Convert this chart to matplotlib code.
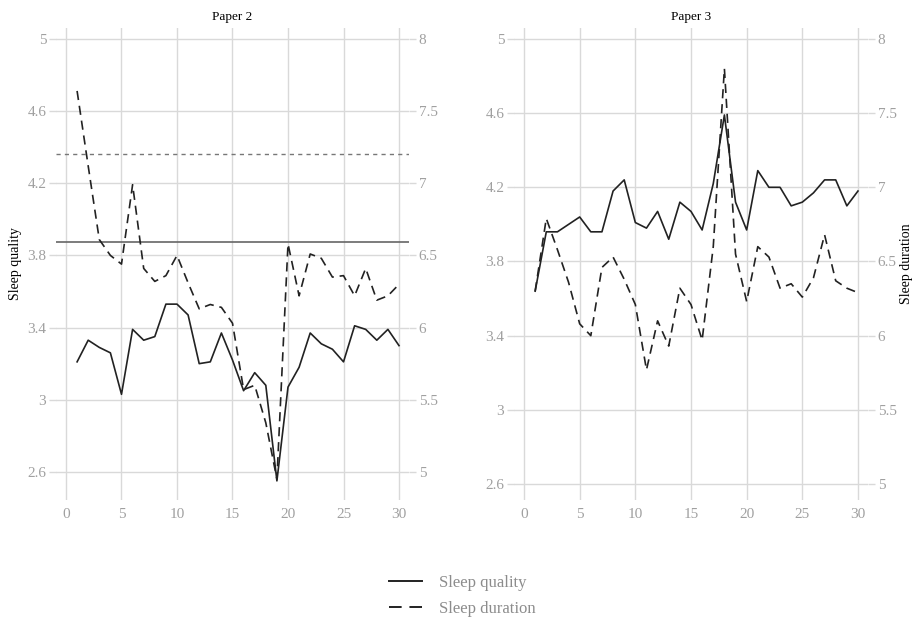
import matplotlib
matplotlib.use("Agg")
import matplotlib.pyplot as plt
from matplotlib.lines import Line2D

plt.rcParams["font.family"] = ["Liberation Serif", "DejaVu Serif"]

# ---------------------------------------------------------------------------
# Data
# ---------------------------------------------------------------------------
days = list(range(1, 31))

p2_quality = [3.21, 3.33, 3.29, 3.26, 3.03, 3.39, 3.33, 3.35, 3.53, 3.53,
              3.47, 3.20, 3.21, 3.37, 3.22, 3.05, 3.15, 3.08, 2.55, 3.07,
              3.18, 3.37, 3.31, 3.28, 3.21, 3.41, 3.39, 3.33, 3.39, 3.30]
p2_duration = [7.64, 7.12, 6.61, 6.50, 6.44, 6.99, 6.41, 6.32, 6.36, 6.50,
               6.31, 6.13, 6.16, 6.14, 6.03, 5.57, 5.60, 5.34, 4.95, 6.58,
               6.22, 6.51, 6.48, 6.35, 6.36, 6.22, 6.41, 6.19, 6.22, 6.30]

p3_quality = [3.64, 3.96, 3.96, 4.00, 4.04, 3.96, 3.96, 4.18, 4.24, 4.01,
              3.98, 4.07, 3.92, 4.12, 4.07, 3.97, 4.22, 4.59, 4.12, 3.97,
              4.29, 4.20, 4.20, 4.10, 4.12, 4.17, 4.24, 4.24, 4.10, 4.18]
p3_duration = [6.30, 6.79, 6.58, 6.36, 6.08, 6.00, 6.46, 6.53, 6.38, 6.21,
               5.77, 6.10, 5.93, 6.32, 6.21, 5.97, 6.60, 7.80, 6.55, 6.23,
               6.60, 6.53, 6.32, 6.35, 6.26, 6.39, 6.68, 6.37, 6.32, 6.29]

# reference lines drawn in the Paper 2 panel
p2_quality_ref = 3.874
p2_duration_ref = 7.20

q_ticks = [2.6, 3.0, 3.4, 3.8, 4.2, 4.6, 5.0]
q_tick_labels = ["2.6", "3", "3.4", "3.8", "4.2", "4.6", "5"]
d_ticks = [5.0, 5.5, 6.0, 6.5, 7.0, 7.5, 8.0]
d_tick_labels = ["5", "5.5", "6", "6.5", "7", "7.5", "8"]
x_ticks = [0, 5, 10, 15, 20, 25, 30]

# ---------------------------------------------------------------------------
# Styling
# ---------------------------------------------------------------------------
LINE_COLOR = "#222222"
GRID_COLOR = "#d9d9d9"
TICK_COLOR = "#a0a0a0"
DASHES = (5.5, 3.5)

W, H = 916, 617
fig = plt.figure(figsize=(W / 100, H / 100), dpi=100)


def px_axes(left, right, top, bottom):
    return fig.add_axes([left / W, (H - bottom) / H, (right - left) / W, (bottom - top) / H])


def style(ax):
    for s in ax.spines.values():
        s.set_visible(False)
    ax.tick_params(axis="both", colors=GRID_COLOR, labelcolor=TICK_COLOR,
                   labelsize=11, length=5, width=1, pad=2)
    ax.tick_params(axis="x", length=0, pad=6)


def panel(left, right, ylim, quality, duration, title, ylabel_left, ylabel_right,
          ref_lines=False):
    ax = px_axes(left, right, 28, 500)
    style(ax)
    ax.set_xlim(-0.9, 30.9)
    ax.set_ylim(*ylim)
    ax.set_xticks(x_ticks)
    ax.set_yticks(q_ticks)
    ax.set_yticklabels(q_tick_labels)
    ax.grid(True, color=GRID_COLOR, linewidth=1)
    ax.set_axisbelow(True)
    ax.set_title(title, fontsize=9.5, pad=6)

    ax2 = ax.twinx()
    style(ax2)
    ax2.set_ylim(1.25 * ylim[0] + 1.75, 1.25 * ylim[1] + 1.75)
    ax2.set_yticks(d_ticks)
    ax2.set_yticklabels(d_tick_labels)

    if ref_lines:
        ax.axhline(p2_quality_ref, color="#666666", linewidth=1.2, zorder=2)
        ax2.axhline(p2_duration_ref, color="#777777", linewidth=1.0,
                    linestyle=(0, (3, 3)), zorder=2)

    ax.plot(days, quality, color=LINE_COLOR, linewidth=1.2, zorder=3)
    ax2.plot(days, duration, color=LINE_COLOR, linewidth=1.2,
             dashes=DASHES, zorder=3)

    if ylabel_left:
        ax.set_ylabel(ylabel_left, fontsize=10, labelpad=4)
    if ylabel_right:
        ax2.set_ylabel(ylabel_right, fontsize=10, rotation=90, labelpad=2)
    return ax, ax2


panel(56, 409, (2.444, 5.061), p2_quality, p2_duration, "Paper 2",
      "Sleep quality", None, ref_lines=True)
panel(514, 868, (2.514, 5.059), p3_quality, p3_duration, "Paper 3",
      None, "Sleep duration")

handles = [
    Line2D([], [], color=LINE_COLOR, linewidth=1.4),
    Line2D([], [], color=LINE_COLOR, linewidth=1.4, dashes=(6.5, 4)),
]
leg = fig.legend(handles, ["Sleep quality", "Sleep duration"],
                 loc="center", bbox_to_anchor=(462 / W, 1 - 596 / H),
                 frameon=False, fontsize=12, handlelength=2.0,
                 labelspacing=0.6, handletextpad=1.0)
for t in leg.get_texts():
    t.set_color("#8c8c8c")

fig.savefig("out.png", dpi=100)
